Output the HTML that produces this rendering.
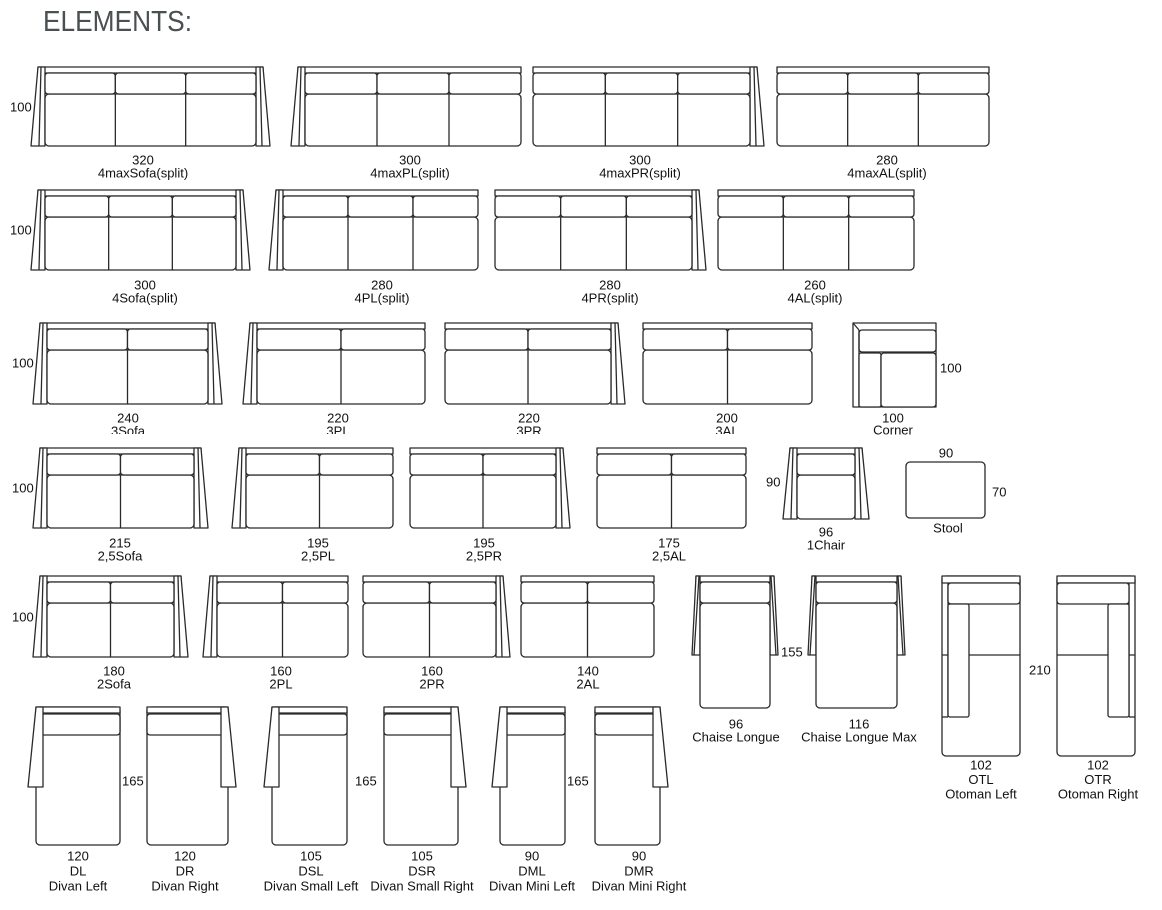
<!DOCTYPE html>
<html><head><meta charset="utf-8"><style>
html,body{margin:0;padding:0;background:#fff;width:1162px;height:910px;overflow:hidden}
svg text{font-family:"Liberation Sans",sans-serif;font-size:13px;fill:#111}
</style></head><body>
<svg id="s" width="1162" height="910" viewBox="0 0 1162 910" xmlns="http://www.w3.org/2000/svg">
<text x="43" y="31" style="font-size:29px;fill:#4a4f52" textLength="149" lengthAdjust="spacingAndGlyphs">ELEMENTS:</text>
<g id="g" fill="#fff" stroke="#2a2a2a" stroke-width="1.3" stroke-linejoin="round"></g>
<g id="t"></g>
<rect x="0" y="434" width="840" height="11" fill="#fff"/>
</svg>
<script>
var G='',T='';
function R(x,y,w,h,r){G+='<rect x="'+x+'" y="'+y+'" width="'+w+'" height="'+h+'" rx="'+(r||0)+'"/>';}
function L(a,b,c,d){G+='<line x1="'+a+'" y1="'+b+'" x2="'+c+'" y2="'+d+'"/>';}
function P(p){G+='<polygon points="'+p+'"/>';}
function txt(x,y,s,a){T+='<text x="'+x+'" y="'+y+'" text-anchor="'+(a||'middle')+'" dominant-baseline="central">'+s+'</text>';}
function lab(cx,y,arr,sp){arr.forEach(function(s,i){txt(cx,y+i*(sp||13),s);});}
function sofa(x0,x1,y0,y1,n,l,r,ab,aw){
  aw=aw||14;ab=ab||y1;var ti=aw/2;
  var bx0=l?x0+aw:x0,bx1=r?x1-aw:x1;
  R(l?x0+ti:x0,y0,(r?x1-ti:x1)-(l?x0+ti:x0),6,0);
  if(l){P((x0+ti)+','+y0+' '+(x0+aw)+','+y0+' '+(x0+aw)+','+ab+' '+x0+','+ab);L(x0+ti+3,y0,x0+aw-6,ab);}
  if(r){P((x1-ti)+','+y0+' '+(x1-aw)+','+y0+' '+(x1-aw)+','+ab+' '+x1+','+ab);L(x1-ti-3,y0,x1-aw+6,ab);}
  R(bx0,y0+27,bx1-bx0,y1-y0-27,4);
  var w=(bx1-bx0)/n;
  for(var i=0;i<n;i++){R(bx0+i*w,y0+6,w,21,3);if(i>0)L(bx0+i*w,y0+27,bx0+i*w,y1);}
}
function divan(x0,x1,y0,y1,side){
  R(x0,y0,x1-x0,y1-y0,4);R(x0,y0,x1-x0,6,0);
  R(x0,y0+7,x1-x0,21,3);
  var ab=y0+80;
  if(side=='L'){P(x0+','+y0+' '+(x0+7)+','+y0+' '+(x0+7)+','+ab+' '+(x0-8)+','+ab);}
  else{P(x1+','+y0+' '+(x1-7)+','+y0+' '+(x1-7)+','+ab+' '+(x1+8)+','+ab);}
}
sofa(31,270,67,146,3,1,1);txt(10,107,'100','start');lab(143,160,['320','4maxSofa(split)']);
sofa(291,521,67,146,3,1,0);lab(410,160,['300','4maxPL(split)']);
sofa(533,764,67,146,3,0,1);lab(640,160,['300','4maxPR(split)']);
sofa(777,989,67,146,3,0,0);lab(887,160,['280','4maxAL(split)']);
sofa(31,250,190,270,3,1,1);txt(10,230,'100','start');lab(145,285,['300','4Sofa(split)']);
sofa(269,478,190,270,3,1,0);lab(382,285,['280','4PL(split)']);
sofa(495,706,190,270,3,0,1);lab(610,285,['280','4PR(split)']);
sofa(718,914,190,270,3,0,0);lab(815,285,['260','4AL(split)']);
sofa(33,222,323,404,2,1,1);txt(12,363,'100','start');lab(128,418,['240','3Sofa']);
sofa(243,425,323,404,2,1,0);lab(338,418,['220','3PL']);
sofa(445,625,323,404,2,0,1);lab(529,418,['220','3PR']);
sofa(643,812,323,404,2,0,0);lab(727,418,['200','3AL']);
R(853,323,83,84,0);L(853,323,859,330);R(859,330,77,22,3);L(859,330,859,407);R(859,353,22,54,2);R(881,353,55,54,3);
txt(940,368,'100','start');lab(893,418,['100','Corner'],12);
sofa(33,208,448,528,2,1,1);txt(12,488,'100','start');lab(120,543,['215','2,5Sofa']);
sofa(232,393,448,528,2,1,0);lab(318,543,['195','2,5PL']);
sofa(410,570,448,528,2,0,1);lab(484,543,['195','2,5PR']);
sofa(597,746,448,528,2,0,0);lab(669,543,['175','2,5AL']);
sofa(783,869,448,519,1,1,1);txt(766,482,'90','start');lab(826,532,['96','1Chair']);
R(906,462,79,56,4);txt(946,453,'90');txt(992,492,'70','start');txt(948,528,'Stool');
sofa(33,188,576,657,2,1,1);txt(12,617,'100','start');lab(114,671,['180','2Sofa']);
sofa(203,348,576,657,2,1,0);lab(281,671,['160','2PL']);
sofa(363,510,576,657,2,0,1);lab(432,671,['160','2PR']);
sofa(521,654,576,657,2,0,0);lab(588,671,['140','2AL']);
sofa(692,778,576,708,1,1,1,655,8);txt(781,652,'155','start');lab(736,724,['96','Chaise Longue']);
sofa(808,905,576,708,1,1,1,655,8);lab(859,724,['116','Chaise Longue Max']);
R(942,576,78,180,4);R(942,576,78,7,0);L(948,583,948,717);R(948,583,72,21,3);L(942,655,1020,655);R(948,604,21,113,2);L(942,717,948,717);
lab(981,765,['102','OTL','Otoman Left'],14.5);txt(1029,670,'210','start');
R(1057,576,78,180,4);R(1057,576,78,7,0);L(1129,583,1129,717);R(1057,583,72,21,3);L(1057,655,1135,655);R(1108,604,21,113,2);L(1129,717,1135,717);
lab(1098,765,['102','OTR','Otoman Right'],14.5);
divan(36,120,707,845,'L');lab(78,856,['120','DL','Divan Left'],15);txt(122,781,'165','start');
divan(147,228,707,845,'R');lab(185,856,['120','DR','Divan Right'],15);
divan(272,347,707,845,'L');lab(311,856,['105','DSL','Divan Small Left'],15);txt(355,781,'165','start');
divan(384,458,707,845,'R');lab(422,856,['105','DSR','Divan Small Right'],15);
divan(500,565,707,845,'L');lab(532,856,['90','DML','Divan Mini Left'],15);txt(567,781,'165','start');
divan(595,660,707,845,'R');lab(639,856,['90','DMR','Divan Mini Right'],15);
document.getElementById('g').innerHTML=G;document.getElementById('t').innerHTML=T;
</script>
</body></html>
